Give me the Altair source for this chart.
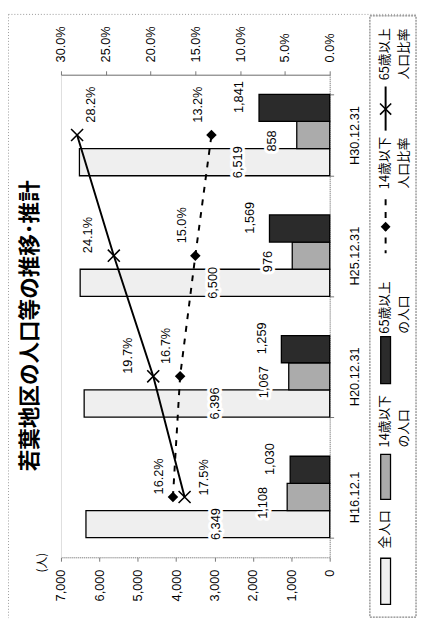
import altair as alt
import pandas as pd

# ---------------- data ----------------
categories = ["H16.12.1", "H20.12.31", "H25.12.31", "H30.12.31"]
total_pop = [6349, 6396, 6500, 6519]
pop_under14 = [1108, 1067, 976, 858]
pop_65over = [1030, 1259, 1569, 1841]
ratio_under14 = [17.5, 16.7, 15.0, 13.2]   # dashed line with diamonds
ratio_65over = [16.2, 19.7, 24.1, 28.2]    # solid line with crosses
series_names = ["全人口", "14歳以下の人口", "65歳以上の人口"]
pop_ticks = [0, 1000, 2000, 3000, 4000, 5000, 6000, 7000]
pct_ticks = [0, 5, 10, 15, 20, 25, 30]
title_text = "若葉地区の人口等の推移･推計"
unit_text = "(人)"
legend_texts = ["全人口", "14歳以下", "の人口", "65歳以上", "の人口",
                "14歳以下", "人口比率", "65歳以上", "人口比率"]

# ---------------- styles ----------------
NUM = "Liberation Sans"
JP = "Noto Sans CJK JP"
FULL_FILL = "#efefef"
LIGHT_FILL = "#ababab"
DARK_FILL = "#2b2b2b"
W, H = 274, 492

bars_df = pd.DataFrame(
    [{"cat": c, "series": s, "value": v}
     for s, vals in zip(series_names, [total_pop, pop_under14, pop_65over])
     for c, v in zip(categories, vals)]
)
lines_df = pd.DataFrame({"cat": categories, "idx": list(range(len(categories))),
                         "u14": ratio_under14, "o65": ratio_65over})

cat_order = categories[::-1]
y_scale = alt.Scale(domain=cat_order, paddingInner=0.325, paddingOuter=0.1625)
y_axis = alt.Axis(orient="right", title=None, labelAngle=270, labelAlign="center",
                  labelBaseline="top", labelPadding=15, tickSize=4, tickBand="extent",
                  domainColor="#888", domainDash=[1, 1], tickColor="#777",
                  labelFont=NUM, labelFontSize=13, labelColor="black", grid=False)


def y_enc():
    return alt.Y("cat:N", sort=cat_order, scale=y_scale, axis=y_axis)


yoff = alt.YOffset("series:N", sort=series_names[::-1],
                   scale=alt.Scale(domain=series_names[::-1], paddingInner=0, paddingOuter=0))

pop_scale = alt.Scale(domain=[0, 7000], reverse=True, nice=False, zero=True)
pop_axis = alt.Axis(values=pop_ticks, labelExpr="format(datum.value, ',')",
                    labelAngle=270, labelAlign="right",
                    labelBaseline="middle", labelPadding=8, tickSize=4, grid=False,
                    domainColor="#888", domainDash=[1, 1], tickColor="#777",
                    labelFont=NUM, labelFontSize=13, labelColor="black",
                    title=unit_text, titleAngle=270, titleX=-20, titleY=5,
                    titleAlign="center", titleBaseline="middle", titleFont=JP,
                    titleFontSize=12, titleFontWeight="normal", titleColor="black")

pct_scale = alt.Scale(domain=[0, 30], reverse=True, nice=False, zero=True)
pct_axis = alt.Axis(orient="top", values=pct_ticks,
                    labelExpr="format(datum.value, '.1f') + '%'",
                    labelAngle=270, labelAlign="left", labelBaseline="middle",
                    labelPadding=9, tickSize=4, grid=False, title=None,
                    domainColor="#777", tickColor="#777",
                    labelFont=NUM, labelFontSize=13, labelColor="black")

# ---------------- people layer ----------------
bars = alt.Chart(bars_df).mark_bar(stroke="black", strokeWidth=1.3).encode(
    x=alt.X("value:Q", scale=pop_scale, axis=pop_axis),
    y=y_enc(),
    yOffset=yoff,
    fill=alt.Fill("series:N", scale=alt.Scale(domain=series_names,
                                              range=[FULL_FILL, LIGHT_FILL, DARK_FILL]),
                  legend=None),
)


def num_label(df_filter, xfield, dx, dy, halo, calc=None):
    ch = alt.Chart(bars_df).transform_filter(df_filter)
    if calc is not None:
        ch = ch.transform_calculate(**calc)
    props = dict(angle=270, align="center", baseline="middle", dx=dx, dy=dy,
                 font=NUM, fontSize=13, color="black")
    if halo:
        props.update(stroke="white", strokeWidth=6, strokeJoin="round")
    return ch.mark_text(**props).encode(
        x=alt.X(f"{xfield}:Q", scale=pop_scale, axis=pop_axis),
        y=y_enc(), yOffset=yoff,
        text=alt.Text("value:Q", format=","),
    )


people_layers = [bars]
label_specs = [
    ((alt.datum.series == series_names[0]) & (alt.datum.cat != categories[3]), "half", 0, 8,
     {"half": "datum.value / 2"}),
    ((alt.datum.series == series_names[0]) & (alt.datum.cat == categories[3]), "half", 0, 34,
     {"half": "datum.value / 2"}),
    (alt.datum.series == series_names[1], "value", -6, -25, None),
    (alt.datum.series == series_names[2], "value", 11, -20, None),
]
for f, xf, dx, dy, calc in label_specs:
    people_layers.append(num_label(f, xf, dx, dy, True, calc))
for f, xf, dx, dy, calc in label_specs:
    people_layers.append(num_label(f, xf, dx, dy, False, calc))

people = alt.layer(*people_layers)

# ---------------- percentage layer ----------------
base_l = alt.Chart(lines_df)
line_u14 = base_l.mark_line(color="black", strokeWidth=2, strokeDash=[6, 7]).encode(
    x=alt.X("u14:Q", scale=pct_scale, axis=pct_axis),
    y=y_enc(), order=alt.Order("idx:Q"))
pts_u14 = base_l.mark_point(shape="diamond", filled=True, size=115, color="black",
                            opacity=1).encode(
    x=alt.X("u14:Q", scale=pct_scale, axis=pct_axis), y=y_enc())
line_o65 = base_l.mark_line(color="black", strokeWidth=2).encode(
    x=alt.X("o65:Q", scale=pct_scale, axis=pct_axis),
    y=y_enc(), order=alt.Order("idx:Q"))
pts_o65 = base_l.mark_point(shape="M-1,-1L1,1M-1,1L1,-1", filled=False, size=150,
                            strokeWidth=1.6, color="black", opacity=1).encode(
    x=alt.X("o65:Q", scale=pct_scale, axis=pct_axis), y=y_enc())


def pct_label(field, f, dx, dy):
    return base_l.transform_filter(f).transform_calculate(
        lbl=f"format(datum.{field}, '.1f') + '%'"
    ).mark_text(angle=270, align="center", baseline="middle", dx=dx, dy=dy,
                font=NUM, fontSize=13, color="black").encode(
        x=alt.X(f"{field}:Q", scale=pct_scale, axis=pct_axis), y=y_enc(), text="lbl:N")


pct = alt.layer(
    line_u14, line_o65, pts_u14, pts_o65,
    pct_label("o65", alt.datum.cat != categories[3], 21, -26),
    pct_label("o65", alt.datum.cat == categories[3], 31, 14),
    pct_label("u14", alt.datum.cat != categories[0], 31, -14),
    pct_label("u14", alt.datum.cat == categories[0], 20, 32),
)

# ---------------- title, frame and legend (rotated, drawn by hand) ----------------
one = pd.DataFrame({"k": [0]})


def lrect(x1, x2, y1, y2, fill, stroke="black", sw=1.3, dash=None, fo=1):
    props = dict(fill=fill, stroke=stroke, strokeWidth=sw, fillOpacity=fo)
    if dash:
        props["strokeDash"] = dash
    return alt.Chart(one).mark_rect(**props).encode(
        x=alt.value(x1), x2=alt.value(x2), y=alt.value(y1), y2=alt.value(y2))


def ltext(txt, x, y, align, size=13, weight="normal"):
    return alt.Chart(pd.DataFrame({"t": [txt]})).mark_text(
        angle=270, align=align, baseline="middle", font=JP, fontSize=size,
        fontWeight=weight, color="black").encode(text="t:N", x=alt.value(x), y=alt.value(y))


def lrule(x1, x2, y1, y2, color="black", sw=2, dash=None):
    props = dict(color=color, strokeWidth=sw)
    if dash:
        props["strokeDash"] = dash
    return alt.Chart(one).mark_rule(**props).encode(
        x=alt.value(x1), x2=alt.value(x2), y=alt.value(y1), y2=alt.value(y2))


decor = [
    ltext(title_text, -31, 256, "center", size=22, weight="bold"),
    lrule(-53.5, -53.5, -61.5, 554, color="#999", sw=1, dash=[1, 2]),
    lrule(-53.5, 363, -61.5, -61.5, color="#999", sw=1, dash=[1, 2]),
    lrect(315, 362, -60, 553, "white", stroke="#666", sw=1, dash=[2, 1], fo=0),
    lrect(326, 336, 493, 540, FULL_FILL),
    lrect(326, 336, 387, 433, LIGHT_FILL),
    lrect(326, 336, 267, 315, DARK_FILL),
    lrule(331, 331, 127, 182, dash=[6, 7]),
    alt.Chart(one).mark_point(shape="diamond", filled=True, size=100, color="black",
                              opacity=1).encode(x=alt.value(331), y=alt.value(155)),
    lrule(331, 331, 12, 57),
    alt.Chart(one).mark_point(shape="M-1,-1L1,1M-1,1L1,-1", filled=False, size=130,
                              strokeWidth=1.6, color="black", opacity=1).encode(
        x=alt.value(331), y=alt.value(35)),
    ltext(legend_texts[0], 330, 483, "left"),
    ltext(legend_texts[1], 330, 380, "left"),
    ltext(legend_texts[2], 350, 380, "left"),
    ltext(legend_texts[3], 330, 264, "left"),
    ltext(legend_texts[4], 350, 264, "left"),
    ltext(legend_texts[5], 330, 90, "center"),
    ltext(legend_texts[6], 350, 90, "center"),
    ltext(legend_texts[7], 330, -21, "center"),
    ltext(legend_texts[8], 350, -21, "center"),
]

chart = alt.layer(people, pct, *decor).resolve_scale(x="independent").properties(
    width=W, height=H,
    padding={"left": 54, "top": 62, "right": 89, "bottom": 62},
    autosize=alt.AutoSizeParams(type="none"),
).configure_view(stroke=None).configure(background="white")

chart.save("out.html", embed_options={"renderer": "svg", "actions": False})
